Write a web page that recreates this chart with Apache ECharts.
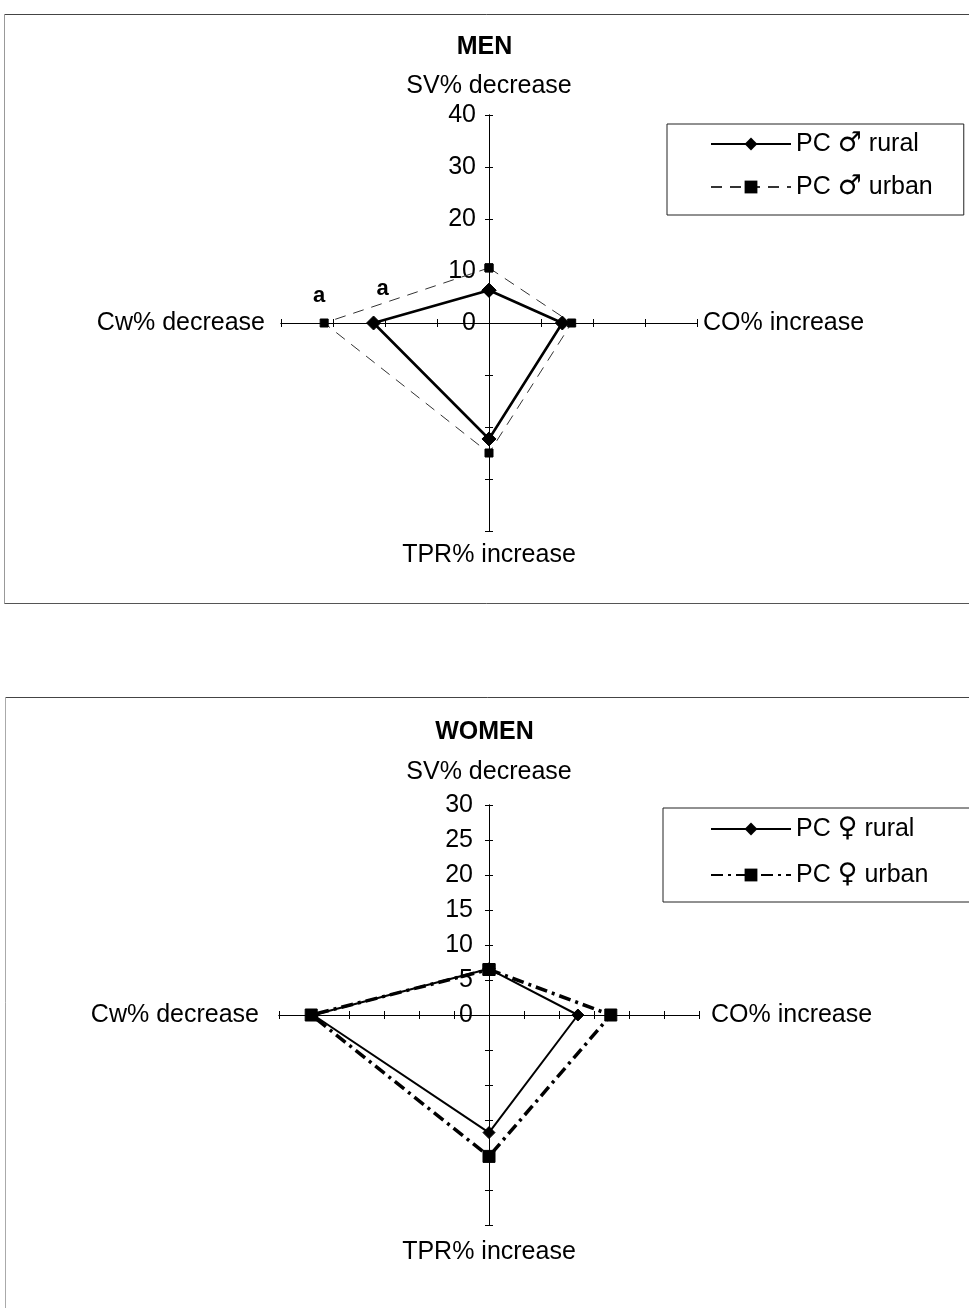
<!DOCTYPE html>
<html>
<head>
<meta charset="utf-8">
<title>PC response – men and women</title>
<script src="https://cdn.jsdelivr.net/npm/echarts@6/dist/echarts.min.js"></script>
<style>
  html, body { margin: 0; padding: 0; background: #fff; }
  #chart { width: 969px; height: 1308px; }
</style>
</head>
<body>
<div id="chart"></div>
<script>
// Four spokes, clockwise from the top: SV, CO, TPR, Cw
const spokeNames = ['SV% decrease', 'CO% increase', 'TPR% increase', 'Cw% decrease'];

// Men (%)
const menRural = [6.3, 14.1, 22.3, 22.2];
const menUrban = [10.6, 15.9, 25.0, 31.7];
const menTicks = [0, 10, 20, 30, 40];

// Women (%)
const womenRural = [6.6, 12.7, 16.8, 25.1];
const womenUrban = [6.5, 17.4, 20.2, 25.4];
const womenTicks = [0, 5, 10, 15, 20, 25, 30];

// Series names
const menNames = ['PC \u2642 rural', 'PC \u2642 urban'];
const womenNames = ['PC \u2640 rural', 'PC \u2640 urban'];

// Cw significance markers ('a') per series
const menMarks = ['a', 'a'];

const FONT = "'Liberation Sans', Arial, 'DejaVu Sans', sans-serif";

// Panel geometry (square plot areas so both axes share one scale)
const panels = [
  { left: 281, top: 115, size: 416 },
  { left: 279, top: 805, size: 420 }
];

// Turn the four spoke values into a closed polygon on crossed value axes:
// SV up, CO right, TPR down, Cw left.
function polygon(vals, cwLabel) {
  const [sv, co, tpr, cw] = vals;
  const cwPoint = { value: [-cw, 0] };
  if (cwLabel) cwPoint.label = cwLabel;
  return [[0, sv], [co, 0], [0, -tpr], cwPoint, [0, sv]];
}

// Each spoke pair is drawn twice (opposite sides) so the ticks cross the line;
// the axes are shifted from the plot edges to its centre.
function axesFor(gridIndex, ticks, labelMargin, gaps) {
  const max = ticks[ticks.length - 1];
  const step = ticks[1] - ticks[0];
  const shift = -panels[gridIndex].size / 2;
  const lineStyle = { color: '#000', width: 1 };
  const tick = { show: true, length: 4, inside: false, lineStyle: lineStyle };
  const nameStyle = { fontSize: 25, color: '#000', fontFamily: FONT };
  const common = {
    type: 'value', gridIndex: gridIndex, min: -max, max: max, interval: step,
    offset: shift, splitLine: { show: false }, axisTick: tick,
    axisLine: { show: true, onZero: false, lineStyle: lineStyle },
    nameTextStyle: nameStyle, nameMoveOverlap: false
  };
  const x = [
    Object.assign({}, common, {
      position: 'bottom', name: spokeNames[1], nameLocation: 'end', nameGap: gaps.co,
      axisLabel: { show: false }
    }),
    Object.assign({}, common, {
      position: 'top', name: spokeNames[3], nameLocation: 'start', nameGap: gaps.cw,
      axisLabel: { show: false }
    })
  ];
  const y = [
    Object.assign({}, common, {
      position: 'left', name: spokeNames[0], nameLocation: 'end', nameGap: gaps.sv,
      axisLabel: {
        show: true, margin: labelMargin, fontSize: 25, color: '#000', fontFamily: FONT,
        formatter: v => (v >= 0 ? String(v) : '')
      }
    }),
    Object.assign({}, common, {
      position: 'right', name: spokeNames[2], nameLocation: 'start', nameGap: gaps.tpr,
      axisLabel: { show: false }
    })
  ];
  return { x: x, y: y };
}

const menAxes = axesFor(0, menTicks, 13, { sv: 16, co: 6, tpr: 12, cw: 16 });
const womenAxes = axesFor(1, womenTicks, 16, { sv: 20, co: 12, tpr: 15, cw: 20 });

function markLabel(text, offset) {
  return {
    show: true, position: 'top', offset: offset, formatter: text,
    fontSize: 22, fontWeight: 'bold', color: '#000', fontFamily: FONT
  };
}

function lineSeries(name, vals, axisBase, style, cwLabel) {
  return {
    type: 'line', name: name,
    xAxisIndex: axisBase, yAxisIndex: axisBase,
    data: polygon(vals, cwLabel),
    symbol: style.symbol, symbolSize: style.size,
    showSymbol: true, clip: false, animation: false,
    itemStyle: { color: '#000', borderColor: '#000' },
    lineStyle: { color: style.color || '#000', width: style.width, type: style.type || 'solid' },
    label: { show: false },
    emphasis: { disabled: true },
    z: style.z || 2
  };
}

const series = [
  lineSeries(menNames[1], menUrban, 0,
    { symbol: 'rect', size: 8, width: 1, type: [11, 8], color: '#333', z: 2 },
    markLabel(menMarks[1], [-5, -7])),
  lineSeries(menNames[0], menRural, 0,
    { symbol: 'diamond', size: 14, width: 2.6, z: 3 },
    markLabel(menMarks[0], [9, -11])),
  lineSeries(womenNames[1], womenUrban, 2,
    { symbol: 'rect', size: 12, width: 3.5, type: [12, 5, 3, 5], z: 2 }),
  lineSeries(womenNames[0], womenRural, 2,
    { symbol: 'diamond', size: 12, width: 2, z: 3 })
];

// Legend text: the sex symbol is set a little larger than the words
const legendText = {
  fontSize: 25, color: '#000', fontFamily: FONT, lineHeight: 28,
  rich: { s: { fontSize: 27, fontFamily: "'DejaVu Sans', sans-serif", color: '#000', lineHeight: 28 } }
};
const legendFormatter = name => name.replace(/([\u2640\u2642])/, '{s|$1}');

const option = {
  backgroundColor: '#fff',
  animation: false,
  textStyle: { fontFamily: FONT },
  title: [
    { text: 'MEN', left: 'center', top: 35, padding: 0,
      textStyle: { fontSize: 25, fontWeight: 'bold', color: '#000', fontFamily: FONT } },
    { text: 'WOMEN', left: 'center', top: 720, padding: 0,
      textStyle: { fontSize: 25, fontWeight: 'bold', color: '#000', fontFamily: FONT } }
  ],
  legend: [
    { data: menNames, orient: 'vertical', left: 667, top: 124,
      padding: [6, 31, 14, 43], itemGap: 15, itemWidth: 80, itemHeight: 16, itemTextGap: 5,
      borderColor: '#222', borderWidth: 1, textStyle: legendText, formatter: legendFormatter,
      selectedMode: false },
    { data: womenNames, orient: 'vertical', left: 663, top: 808,
      padding: [7, 60, 13, 47], itemGap: 18, itemWidth: 80, itemHeight: 16, itemTextGap: 5,
      borderColor: '#222', borderWidth: 1, textStyle: legendText, formatter: legendFormatter,
      selectedMode: false }
  ],
  grid: panels.map(p => ({
    left: p.left, top: p.top, width: p.size, height: p.size,
    containLabel: false, outerBoundsMode: 'none'
  })),
  xAxis: menAxes.x.concat(womenAxes.x),
  yAxis: menAxes.y.concat(womenAxes.y),
  series: series,
  // Chart-area frames around each panel
  graphic: [
    { type: 'line', shape: { x1: 4.5, y1: 14.5, x2: 969, y2: 14.5 }, style: { stroke: '#444', lineWidth: 1 } },
    { type: 'line', shape: { x1: 4.5, y1: 14.5, x2: 4.5, y2: 603.5 }, style: { stroke: '#999', lineWidth: 1 } },
    { type: 'line', shape: { x1: 4.5, y1: 603.5, x2: 969, y2: 603.5 }, style: { stroke: '#555', lineWidth: 1 } },
    { type: 'line', shape: { x1: 5.5, y1: 697.5, x2: 969, y2: 697.5 }, style: { stroke: '#444', lineWidth: 1 } },
    { type: 'line', shape: { x1: 5.5, y1: 697.5, x2: 5.5, y2: 1308 }, style: { stroke: '#aaa', lineWidth: 1 } }
  ]
};

const chart = echarts.init(document.getElementById('chart'), null, { renderer: 'canvas' });
chart.setOption(option);
</script>
</body>
</html>
